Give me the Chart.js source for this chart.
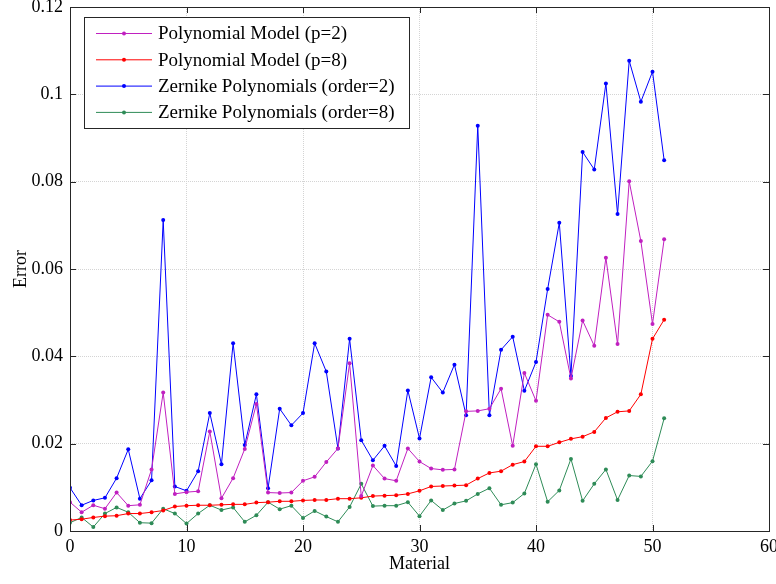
<!DOCTYPE html>
<html>
<head>
<meta charset="utf-8">
<script src="https://cdn.jsdelivr.net/npm/chart.js@4.4.0/dist/chart.umd.min.js"></script>
<style>
  html, body { margin: 0; padding: 0; background: #fff; }
  #wrap { width: 776px; height: 584px; }
</style>
</head>
<body>
<div id="wrap"><canvas id="chart" width="776" height="584"></canvas></div>
<script>
"use strict";

// data
var materials = [0,1,2,3,4,5,6,7,8,9,10,11,12,13,14,15,16,17,18,19,20,21,22,23,24,25,
                 26,27,28,29,30,31,32,33,34,35,36,37,38,39,40,41,42,43,44,45,46,47,48,49,50,51];

var polyP2 = [0.0066,0.0043,0.0059,0.0051,0.0088,0.0058,0.0060,0.0141,0.0317,0.0085,
              0.0089,0.0091,0.0228,0.0075,0.0121,0.0188,0.0291,0.0088,0.0087,0.0088,
              0.0115,0.0124,0.0158,0.0189,0.0384,0.0080,0.0150,0.0120,0.0115,0.0189,
              0.0159,0.0143,0.0140,0.0141,0.0274,0.0275,0.0280,0.0326,0.0195,0.0362,
              0.0298,0.0495,0.0479,0.0349,0.0482,0.0424,0.0626,0.0428,0.0801,0.0664,
              0.0474,0.0668];

var polyP8 = [0.0025,0.0027,0.0031,0.0034,0.0035,0.0040,0.0040,0.0043,0.0047,0.0056,
              0.0058,0.0059,0.0059,0.0060,0.0061,0.0061,0.0065,0.0066,0.0068,0.0068,
              0.0070,0.0071,0.0071,0.0074,0.0074,0.0076,0.0080,0.0081,0.0082,0.0085,
              0.0092,0.0102,0.0103,0.0104,0.0105,0.0120,0.0133,0.0137,0.0152,0.0159,
              0.0194,0.0194,0.0203,0.0211,0.0216,0.0227,0.0259,0.0273,0.0275,0.0313,
              0.0440,0.0484];

var zernO2 = [0.0099,0.0059,0.0070,0.0076,0.0121,0.0187,0.0074,0.0116,0.0712,0.0102,
              0.0092,0.0137,0.0270,0.0153,0.0430,0.0197,0.0313,0.0098,0.0280,0.0242,
              0.0270,0.0430,0.0365,0.0189,0.0440,0.0208,0.0162,0.0195,0.0149,0.0322,
              0.0212,0.0352,0.0317,0.0381,0.0265,0.0928,0.0265,0.0415,0.0445,0.0321,
              0.0387,0.0554,0.0706,0.0355,0.0868,0.0828,0.1025,0.0726,0.1077,0.0983,
              0.1052,0.0849];

var zernO8 = [0.0019,0.0031,0.0009,0.0040,0.0054,0.0043,0.0019,0.0018,0.0051,0.0040,
              0.0017,0.0040,0.0059,0.0048,0.0054,0.0021,0.0036,0.0066,0.0050,0.0058,
              0.0030,0.0046,0.0033,0.0021,0.0055,0.0108,0.0057,0.0058,0.0058,0.0066,
              0.0034,0.0070,0.0048,0.0063,0.0069,0.0085,0.0098,0.0060,0.0065,0.0086,
              0.0153,0.0067,0.0093,0.0165,0.0069,0.0108,0.0141,0.0071,0.0127,0.0125,
              0.0160,0.0258];

var xTicks = [0, 10, 20, 30, 40, 50, 60];
var yTicks = [0, 0.02, 0.04, 0.06, 0.08, 0.1, 0.12];

var seriesNames = ["Polynomial Model (p=2)", "Polynomial Model (p=8)",
                   "Zernike Polynomials (order=2)", "Zernike Polynomials (order=8)"];
var seriesColors = ["#c020c0", "#ff0000", "#0000ff", "#2e8b57"];

var FONT = "'Liberation Serif', 'DejaVu Serif', serif";
var FRAME = "#262626";

function toPoints(vals) {
    return materials.map(function (m, i) { return {x: m, y: vals[i]}; });
}

function makeSet(i, vals) {
    return {
        label: seriesNames[i],
        data: toPoints(vals),
        borderColor: seriesColors[i],
        backgroundColor: seriesColors[i],
        borderWidth: 1,
        pointRadius: 2,
        pointBorderWidth: 0,
        pointHoverRadius: 2,
        tension: 0
    };
}

// frame, inward ticks and legend box
var framePlugin = {
    id: "frame",
    afterDatasetsDraw: function (chart) {
        var ctx = chart.ctx, a = chart.chartArea;
        var xs = chart.scales.x, ys = chart.scales.y;
        ctx.save();
        ctx.strokeStyle = FRAME;
        ctx.lineWidth = 1;
        ctx.strokeRect(Math.round(a.left) + 0.5, Math.round(a.top) + 0.5,
                       Math.round(a.right - a.left), Math.round(a.bottom - a.top));
        ctx.beginPath();
        xTicks.forEach(function (t) {
            var px = Math.round(xs.getPixelForValue(t)) + 0.5;
            ctx.moveTo(px, a.bottom); ctx.lineTo(px, a.bottom - 6);
            ctx.moveTo(px, a.top); ctx.lineTo(px, a.top + 6);
        });
        yTicks.forEach(function (t) {
            var py = Math.round(ys.getPixelForValue(t)) + 0.5;
            ctx.moveTo(a.left, py); ctx.lineTo(a.left + 6, py);
            ctx.moveTo(a.right, py); ctx.lineTo(a.right - 6, py);
        });
        ctx.stroke();

        // legend
        var bx = 84.5, by = 17.5, bw = 325, bh = 111;
        ctx.fillStyle = "#fff";
        ctx.fillRect(bx, by, bw, bh);
        ctx.strokeRect(bx, by, bw, bh);
        ctx.font = "19px " + FONT;
        ctx.textBaseline = "middle";
        chart.data.datasets.forEach(function (ds, i) {
            var y = 33.5 + i * 26.3;
            ctx.strokeStyle = ds.borderColor;
            ctx.beginPath();
            ctx.moveTo(96, y); ctx.lineTo(152, y);
            ctx.stroke();
            ctx.fillStyle = ds.borderColor;
            ctx.beginPath();
            ctx.arc(124, y, 2, 0, Math.PI * 2);
            ctx.fill();
            ctx.fillStyle = "#000";
            ctx.fillText(ds.label, 158, y + 1);
        });
        ctx.restore();
    }
};

var ctx = document.getElementById("chart").getContext("2d");
var myChart = new Chart(ctx, {
    type: "line",
    data: {
        datasets: [
            makeSet(0, polyP2),
            makeSet(1, polyP8),
            makeSet(2, zernO2),
            makeSet(3, zernO8)
        ]
    },
    options: {
        responsive: false,
        animation: false,
        events: [],
        layout: {padding: {left: 0, right: 7, top: 7, bottom: 0}},
        plugins: {legend: {display: false}, tooltip: {enabled: false}},
        scales: {
            x: {
                type: "linear",
                min: 0, max: 60,
                afterFit: function (s) { s.height = 53; s.paddingLeft = 0; s.paddingRight = 0; },
                afterBuildTicks: function (s) { s.ticks = xTicks.map(function (v) { return {value: v}; }); },
                grid: {color: "#d4d4d4", drawTicks: false, lineWidth: 1},
                border: {display: false, dash: [1, 1]},
                ticks: {color: "#000", font: {family: FONT, size: 18}, padding: 5, maxRotation: 0},
                title: {display: true, text: "Material", color: "#000",
                        font: {family: FONT, size: 18}, padding: {top: 0, bottom: 9}}
            },
            y: {
                type: "linear",
                min: 0, max: 0.12,
                afterFit: function (s) { s.width = 70; s.paddingTop = 0; s.paddingBottom = 0; },
                afterBuildTicks: function (s) { s.ticks = yTicks.map(function (v) { return {value: v}; }); },
                grid: {color: "#d4d4d4", drawTicks: false, lineWidth: 1},
                border: {display: false, dash: [1, 1]},
                ticks: {color: "#000", font: {family: FONT, size: 18}, padding: 7,
                        callback: function (v) { return String(v); }},
                title: {display: true, text: "Error", color: "#000",
                        font: {family: FONT, size: 18}, padding: {top: 10, bottom: 0}}
            }
        }
    },
    plugins: [framePlugin]
});
</script>
</body>
</html>
